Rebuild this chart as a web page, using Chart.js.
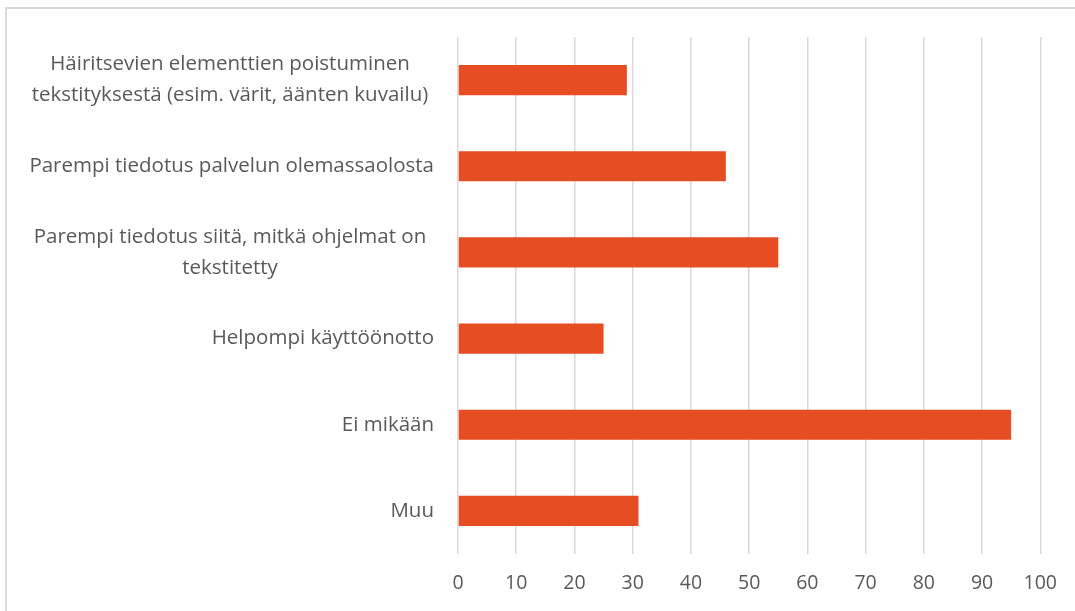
<!DOCTYPE html>
<html>
<head>
<meta charset="utf-8">
<script src="https://cdn.jsdelivr.net/npm/chart.js@4/dist/chart.umd.min.js"></script>
<style>
  html, body { margin: 0; padding: 0; background: #fff; overflow: hidden; }
  #frame {
    position: absolute; left: 5px; top: 7px; width: 1200px; height: 700px;
    border: 2px solid #d9d9d9; box-sizing: border-box;
  }
  #chart { position: absolute; left: 0; top: 0; }
</style>
</head>
<body>
<div id="frame"></div>
<canvas id="chart" width="1075" height="611"></canvas>
<script>
// categories (top to bottom)
const categories = [
  ['Häiritsevien elementtien poistuminen', 'tekstityksestä (esim. värit, äänten kuvailu)'],
  'Parempi tiedotus palvelun olemassaolosta',
  ['Parempi tiedotus siitä, mitkä ohjelmat on', 'tekstitetty'],
  'Helpompi käyttöönotto',
  'Ei mikään',
  'Muu'
];
const values = [29, 46, 55, 25, 95, 31];
const xTicks = [0, 10, 20, 30, 40, 50, 60, 70, 80, 90, 100];

const FONT = '"Open Sans", "Noto Sans", sans-serif';
const TEXT = '#595959';
const LINE_H = 31;

// draws the category labels: single lines right-aligned, wrapped ones centred
const categoryLabels = {
  id: 'categoryLabels',
  afterDraw(chart) {
    const ctx = chart.ctx;
    const yScale = chart.scales.y;
    const right = chart.chartArea.left - 24;
    const centre = right - 204;
    ctx.save();
    ctx.font = '20.5px ' + FONT;
    ctx.fillStyle = TEXT;
    ctx.textBaseline = 'middle';
    categories.forEach((lab, i) => {
      const lines = Array.isArray(lab) ? lab : [lab];
      const py = yScale.getPixelForTick(i);
      ctx.textAlign = lines.length > 1 ? 'center' : 'right';
      const x = lines.length > 1 ? centre : right;
      lines.forEach((ln, j) => {
        ctx.fillText(ln, x, py + (j - (lines.length - 1) / 2) * LINE_H);
      });
    });
    ctx.restore();
  }
};

new Chart(document.getElementById('chart'), {
  type: 'bar',
  data: {
    labels: categories,
    datasets: [{
      data: values,
      backgroundColor: '#e64d23',
      borderWidth: 0,
      barPercentage: 0.35,
      categoryPercentage: 1
    }]
  },
  options: {
    indexAxis: 'y',
    responsive: false,
    animation: false,
    layout: { padding: { left: 10, right: 34, top: 37, bottom: 0 } },
    plugins: { legend: { display: false }, tooltip: { enabled: false } },
    scales: {
      x: {
        min: 0,
        max: 100,
        afterBuildTicks(scale) { scale.ticks = xTicks.map(v => ({ value: v })); },
        afterFit(scale) { scale.height = 57; },
        grid: { color: '#d9d9d9', lineWidth: 1.5, drawTicks: false },
        border: { display: false },
        ticks: { color: TEXT, font: { family: FONT, size: 19.5 }, padding: 18 }
      },
      y: {
        grid: { display: false },
        border: { display: false },
        ticks: { display: false },
        afterFit(scale) { scale.width = 448; }
      }
    }
  },
  plugins: [categoryLabels]
});
</script>
</body>
</html>
